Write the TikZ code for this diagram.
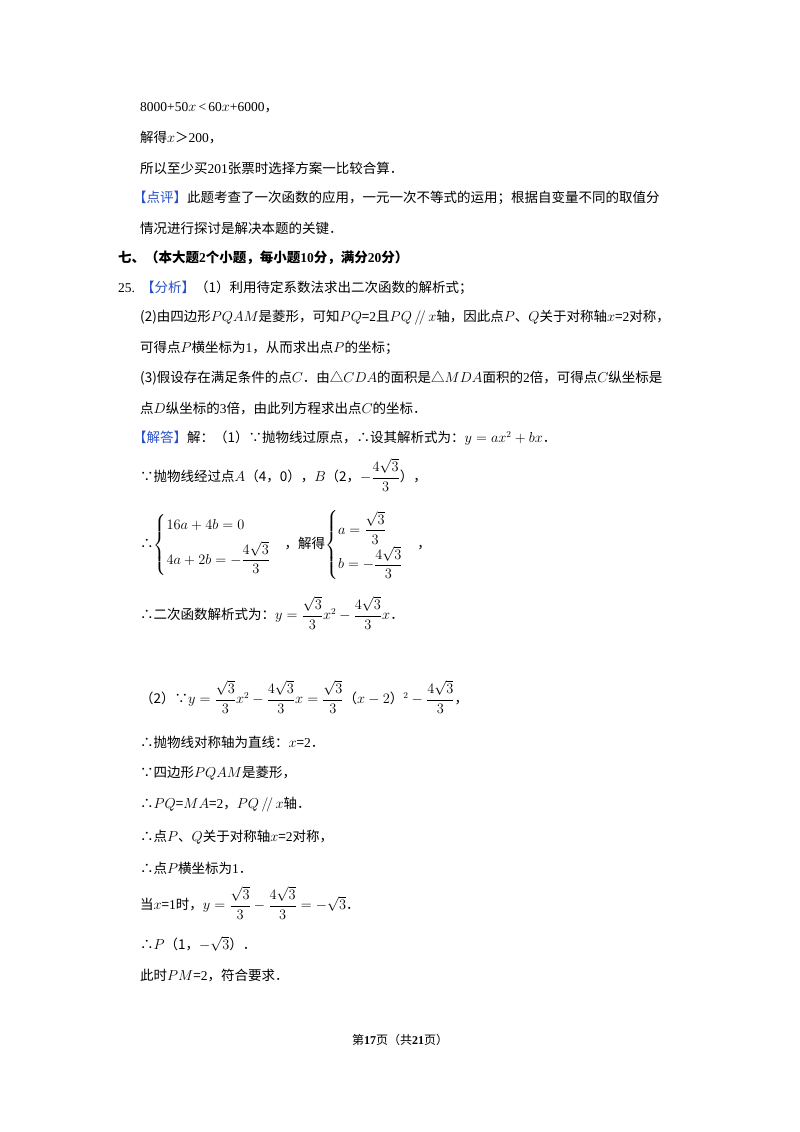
\documentclass[tikz,border=0pt]{standalone}
\usepackage{amsmath}
\usepackage{fontspec}
\setmainfont{Noto Sans CJK SC}
\newfontfamily\lat{Liberation Serif}
\definecolor{tagblue}{RGB}{40,80,200}
\newcommand{\tg}[1]{\textcolor{tagblue}{【#1】}}
\newcommand{\fr}[2]{\dfrac{#1}{#2}}
\begin{document}
\begin{tikzpicture}[x=1pt,y=-1pt,every node/.style={anchor=west,inner sep=0pt,font=\fontsize{13.5}{16}\selectfont}]
\useasboundingbox (0,0) rectangle (800,1132);
\fill[white] (0,0) rectangle (800,1132);
\node (l1) at (140,108) {{\lat 8000+50$x$\,<\,60$x$+6000}，};
\node (l2) at (140,138) {解得$x$＞{\lat 200}，};
\node (l3) at (140,168) {所以至少买{\lat 201}张票时选择方案一比较合算．};
\node (l4) at (133,198) {\tg{点评}此题考查了一次函数的应用，一元一次不等式的运用；根据自变量不同的取值分};
\node (l5) at (140,228) {情况进行探讨是解决本题的关键．};
\node (l6) at (118,258) {\bfseries 七、（本大题{\lat 2}个小题，每小题{\lat 10}分，满分{\lat 20}分）};
\node (l7) at (118,288) {{\lat 25.}\ \ \tg{分析}（1）利用待定系数法求出二次函数的解析式；};
\node (l8) at (140,318) {(2)由四边形$PQAM$是菱形，可知$PQ$={\lat 2}且$PQ\,/\!/\,x$轴，因此点$P$、$Q$关于对称轴$x$={\lat 2}对称，};
\node (l9) at (140,348) {可得点$P$横坐标为{\lat 1}，从而求出点$P$的坐标；};
\node (l10) at (140,378) {(3)假设存在满足条件的点$C$．由△$CDA$的面积是△$MDA$面积的{\lat 2}倍，可得点$C$纵坐标是};
\node (l11) at (140,408) {点$D$纵坐标的{\lat 3}倍，由此列方程求出点$C$的坐标．};
\node (l12) at (133,438) {\tg{解答}解：（1）∵抛物线过原点，∴设其解析式为：$y=ax^2+bx$．};
\node (l13) at (140,475) {∵抛物线经过点$A$（4，0），$B$（2，$-\fr{4\sqrt3}{3}$），};
\node (l14) at (140,545) {∴$\begin{cases}16a+4b=0\\[6pt] 4a+2b=-\fr{4\sqrt3}{3}\end{cases}$，解得$\begin{cases}a=\fr{\sqrt3}{3}\\[6pt] b=-\fr{4\sqrt3}{3}\end{cases}$，};
\node (l15) at (140,613) {∴二次函数解析式为：$y=\fr{\sqrt3}{3}x^2-\fr{4\sqrt3}{3}x$．};
\node (l16) at (140,697) {（2）∵$y=\fr{\sqrt3}{3}x^2-\fr{4\sqrt3}{3}x=\fr{\sqrt3}{3}$（$x-2$）$^2-\fr{4\sqrt3}{3}$，};
\node (l17) at (140,742) {∴抛物线对称轴为直线：$x$={\lat 2}．};
\node (l18) at (140,773) {∵四边形$PQAM$是菱形，};
\node (l19) at (140,805) {∴$PQ$=$MA$={\lat 2}，$PQ\,/\!/\,x$轴．};
\node (l20) at (140,837) {∴点$P$、$Q$关于对称轴$x$={\lat 2}对称，};
\node (l21) at (140,868) {∴点$P$横坐标为{\lat 1}．};
\node (l22) at (140,903) {当$x$={\lat 1}时，$y=\fr{\sqrt3}{3}-\fr{4\sqrt3}{3}=-\sqrt3$．};
\node (l23) at (140,944) {∴$P$（1，$-\sqrt3$）．};
\node (l24) at (140,976) {此时$PM$={\lat 2}，符合要求．};
\node[anchor=center,font=\fontsize{12}{14}\selectfont] (ft) at (400,1040) {第\textbf{\lat 17}页（共\textbf{\lat 21}页）};
\end{tikzpicture}
\end{document}
